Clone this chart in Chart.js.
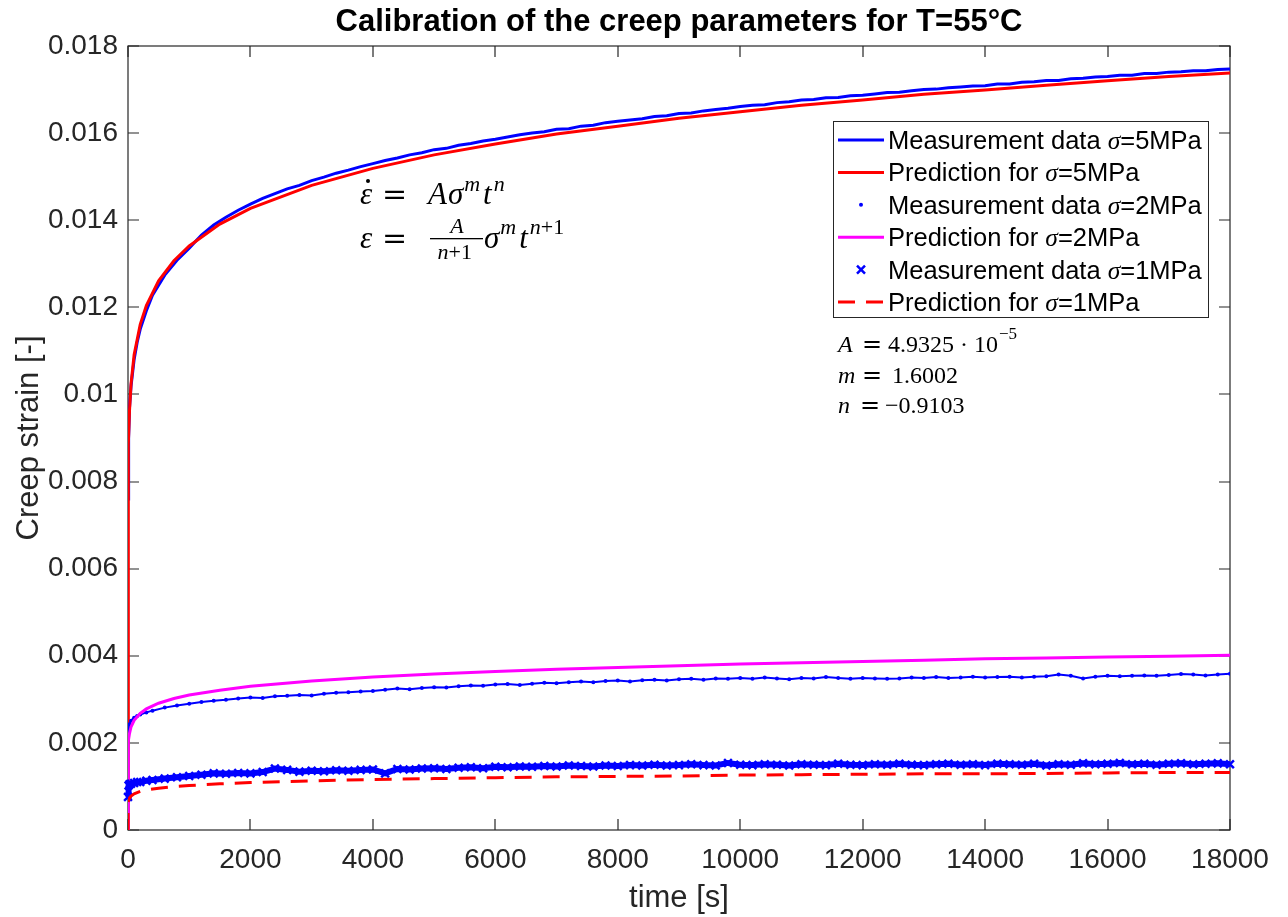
<!DOCTYPE html>
<html>
<head>
<meta charset="utf-8">
<title>Creep calibration T=55°C</title>
<script src="https://cdn.jsdelivr.net/npm/chart.js@4.4.1/dist/chart.umd.min.js"></script>
<style>
  html, body { margin: 0; padding: 0; background: #fff; }
  canvas { display: block; }
</style>
</head>
<body>
<canvas id="creep" width="1288" height="917"></canvas>
<script>
// time grid of the fitted power-law curves [s]
const predTime = [0, 1, 5, 10, 25, 50, 100, 200, 300, 500, 750, 1000, 1500, 2000, 3000,
  4000, 5000, 6000, 7000, 8000, 9000, 10000, 11000, 12000, 13000, 14000, 15000, 16000, 17000, 18000];
const pred5 = [0, 0.00722, 0.00834, 0.00887, 0.00964, 0.01025, 0.01091, 0.01161, 0.01204, 0.01261, 0.01307, 0.01341, 0.01391, 0.01427, 0.01480,
  0.01519, 0.01550, 0.01575, 0.01598, 0.01616, 0.01634, 0.01649, 0.01664, 0.01676, 0.01689, 0.01699, 0.01710, 0.01720, 0.01730, 0.01738];
const pred2 = [0, 0.00167, 0.00193, 0.00205, 0.00222, 0.00237, 0.00252, 0.00268, 0.00278, 0.00291, 0.00302, 0.00310, 0.00321, 0.00330, 0.00342,
  0.00351, 0.00358, 0.00364, 0.00369, 0.00373, 0.00377, 0.00381, 0.00384, 0.00387, 0.00390, 0.00393, 0.00395, 0.00397, 0.00399, 0.00401];
const pred1 = [0, 0.00055, 0.000635, 0.000676, 0.000734, 0.000781, 0.000831, 0.000885, 0.000917, 0.00096, 0.000996, 0.00102, 0.00106, 0.00109, 0.00113,
  0.00116, 0.00118, 0.00120, 0.00122, 0.00123, 0.00124, 0.00126, 0.00127, 0.00128, 0.00129, 0.00129, 0.00130, 0.00131, 0.00132, 0.00132];

// sampling times of the measurements [s]
const measTime = [0, 10, 25, 50, 100, 150, 200, 300, 400, 600, 800, 1000,
  1200, 1400, 1600, 1800, 2000, 2200, 2400, 2600, 2800, 3000,
  3200, 3400, 3600, 3800, 4000, 4200, 4400, 4600, 4800, 5000,
  5200, 5400, 5600, 5800, 6000, 6200, 6400, 6600, 6800, 7000,
  7200, 7400, 7600, 7800, 8000, 8200, 8400, 8600, 8800, 9000,
  9200, 9400, 9600, 9800, 10000, 10200, 10400, 10600, 10800, 11000,
  11200, 11400, 11600, 11800, 12000, 12200, 12400, 12600, 12800, 13000,
  13200, 13400, 13600, 13800, 14000, 14200, 14400, 14600, 14800, 15000,
  15200, 15400, 15600, 15800, 16000, 16200, 16400, 16600, 16800, 17000,
  17200, 17400, 17600, 17800, 18000];
const meas5 = [0.0076, 0.0090, 0.0097, 0.0102, 0.0108, 0.0112, 0.01150, 0.01192, 0.01228, 0.01274, 0.01308, 0.01336,
  0.01366, 0.01389, 0.01407, 0.01423, 0.01437, 0.01450, 0.01461, 0.01472, 0.01480, 0.01491,
  0.01499, 0.01508, 0.01515, 0.01523, 0.01530, 0.01537, 0.01543, 0.01550, 0.01555, 0.01562,
  0.01565, 0.01572, 0.01576, 0.01582, 0.01586, 0.01591, 0.01596, 0.01600, 0.01603, 0.01609,
  0.01610, 0.01616, 0.01618, 0.01624, 0.01627, 0.01630, 0.01633, 0.01638, 0.01640, 0.01645,
  0.01646, 0.01651, 0.01654, 0.01657, 0.01661, 0.01664, 0.01665, 0.01670, 0.01672, 0.01676,
  0.01677, 0.01681, 0.01682, 0.01686, 0.01687, 0.01690, 0.01693, 0.01694, 0.01697, 0.01700,
  0.01701, 0.01704, 0.01706, 0.01708, 0.01709, 0.01713, 0.01713, 0.01717, 0.01718, 0.01721,
  0.01721, 0.01725, 0.01726, 0.01729, 0.01730, 0.01733, 0.01733, 0.01737, 0.01737, 0.01740,
  0.01741, 0.01743, 0.01743, 0.01746, 0.01747];
const meas2 = [0.00210, 0.00232, 0.00243, 0.00251, 0.00258, 0.00262, 0.00265, 0.00270, 0.00274, 0.00281, 0.00286, 0.00290,
  0.00294, 0.00297, 0.00299, 0.00302, 0.00304, 0.00303, 0.00307, 0.00308, 0.00310, 0.00309,
  0.00313, 0.00315, 0.00316, 0.00318, 0.00319, 0.00322, 0.00325, 0.00323, 0.00326, 0.00328,
  0.00327, 0.00330, 0.00332, 0.00331, 0.00334, 0.00335, 0.00333, 0.00336, 0.00338, 0.00337,
  0.00339, 0.00341, 0.00339, 0.00342, 0.00343, 0.00341, 0.00344, 0.00345, 0.00343, 0.00346,
  0.00347, 0.00345, 0.00348, 0.00347, 0.00349, 0.00347, 0.00350, 0.00348, 0.00346, 0.00349,
  0.00348, 0.00351, 0.00349, 0.00347, 0.00349, 0.00348, 0.00347, 0.00348, 0.00350, 0.00349,
  0.00351, 0.00349, 0.00350, 0.00352, 0.00350, 0.00351, 0.00352, 0.00350, 0.00352, 0.00353,
  0.00357, 0.00354, 0.00348, 0.00352, 0.00354, 0.00353, 0.00354, 0.00355, 0.00354, 0.00356,
  0.00358, 0.00357, 0.00355, 0.00357, 0.00359];
const meas1 = [0.00076, 0.00102, 0.00105, 0.00106, 0.00108, 0.00110, 0.00110, 0.00113, 0.00115, 0.00118, 0.00121, 0.00124,
  0.00127, 0.00130, 0.00129, 0.00131, 0.00130, 0.00133, 0.00141, 0.00138, 0.00134, 0.00136,
  0.00135, 0.00137, 0.00136, 0.00138, 0.00139, 0.00130, 0.00140, 0.00139, 0.00141, 0.00142,
  0.00140, 0.00143, 0.00144, 0.00142, 0.00145, 0.00144, 0.00146, 0.00145, 0.00147, 0.00146,
  0.00148, 0.00147, 0.00146, 0.00148, 0.00147, 0.00149, 0.00148, 0.00150, 0.00148, 0.00149,
  0.00151, 0.00149, 0.00148, 0.00154, 0.00150, 0.00149, 0.00151, 0.00150, 0.00148, 0.00151,
  0.00150, 0.00149, 0.00152, 0.00150, 0.00149, 0.00151, 0.00150, 0.00152, 0.00150, 0.00149,
  0.00151, 0.00152, 0.00150, 0.00151, 0.00149, 0.00152, 0.00151, 0.00150, 0.00152, 0.00148,
  0.00151, 0.00150, 0.00153, 0.00151, 0.00152, 0.00154, 0.00151, 0.00152, 0.00150, 0.00152,
  0.00153, 0.00151, 0.00152, 0.00153, 0.00151];

const xTicks = [0, 2000, 4000, 6000, 8000, 10000, 12000, 14000, 16000, 18000];
const xTickLabels = ['0', '2000', '4000', '6000', '8000', '10000', '12000', '14000', '16000', '18000'];
const yTicks = [0, 0.002, 0.004, 0.006, 0.008, 0.01, 0.012, 0.014, 0.016, 0.018];
const yTickLabels = ['0', '0.002', '0.004', '0.006', '0.008', '0.01', '0.012', '0.014', '0.016', '0.018'];

const axisColor = '#262626';
const sans = '"Liberation Sans", Arial, Helvetica, sans-serif';
const serif = '"Liberation Serif", "Times New Roman", serif';
const wideSerif = '"DejaVu Serif", serif';

const toPoints = (xs, ys) => xs.map((x, i) => ({ x: x, y: ys[i] }));

// MATLAB style box with inward ticks on all four sides
const axesBox = {
  id: 'axesBox',
  beforeDatasetsDraw(chart) {
    const { ctx, chartArea: { left, top, right, bottom }, scales: { x, y } } = chart;
    const len = 11;
    ctx.save();
    ctx.strokeStyle = axisColor;
    ctx.lineWidth = 1.2;
    ctx.strokeRect(left, top, right - left, bottom - top);
    ctx.beginPath();
    xTicks.forEach(v => {
      const px = Math.round(x.getPixelForValue(v));
      ctx.moveTo(px, bottom); ctx.lineTo(px, bottom - len);
      ctx.moveTo(px, top); ctx.lineTo(px, top + len);
    });
    yTicks.forEach(v => {
      const py = Math.round(y.getPixelForValue(v));
      ctx.moveTo(left, py); ctx.lineTo(left + len, py);
      ctx.moveTo(right, py); ctx.lineTo(right - len, py);
    });
    ctx.stroke();
    ctx.restore();
  }
};

// write a run of text and return where it ends
function put(ctx, text, x, y, font) {
  ctx.font = font;
  ctx.fillText(text, x, y);
  return x + ctx.measureText(text).width;
}

// legend box: line / marker sample, then label with an italic sigma
const legendBox = {
  id: 'legendBox',
  afterDraw(chart) {
    const ctx = chart.ctx;
    const bx = 833, by = 121, bw = 375, bh = 196, rowH = 32.4;
    ctx.save();
    ctx.fillStyle = '#fff';
    ctx.fillRect(bx, by, bw, bh);
    ctx.strokeStyle = axisColor;
    ctx.lineWidth = 1;
    ctx.strokeRect(bx + 0.5, by + 0.5, bw, bh);

    chart.data.datasets.forEach((ds, i) => {
      const cy = by + 19 + i * rowH;
      const x0 = bx + 5, x1 = bx + 51, xm = (x0 + x1) / 2;
      ctx.strokeStyle = ds.borderColor;
      ctx.fillStyle = ds.borderColor;
      if (ds.pointStyle === 'crossRot') {
        ctx.lineWidth = 2.5;
        ctx.beginPath();
        ctx.moveTo(xm - 4, cy - 4); ctx.lineTo(xm + 4, cy + 4);
        ctx.moveTo(xm - 4, cy + 4); ctx.lineTo(xm + 4, cy - 4);
        ctx.stroke();
      } else if (ds.pointStyle === 'circle') {
        ctx.beginPath();
        ctx.arc(xm, cy, 2, 0, Math.PI * 2);
        ctx.fill();
      } else {
        ctx.lineWidth = 3;
        ctx.setLineDash(ds.borderDash || []);
        ctx.beginPath();
        ctx.moveTo(x0, cy); ctx.lineTo(x1, cy);
        ctx.stroke();
        ctx.setLineDash([]);
      }
      const parts = ds.label.split('σ');
      ctx.fillStyle = '#000';
      ctx.textBaseline = 'alphabetic';
      let tx = bx + 55;
      tx = put(ctx, parts[0], tx, cy + 9, '25.5px ' + sans);
      tx = put(ctx, 'σ', tx, cy + 9, 'italic 25.5px ' + serif);
      put(ctx, parts[1], tx, cy + 9, '25.5px ' + sans);
    });
    ctx.restore();
  }
};

// creep law and fitted parameters written into the axes
const formulas = {
  id: 'formulas',
  afterDraw(chart) {
    const ctx = chart.ctx;
    const big = 'italic 31px ' + serif, small = 'italic 22px ' + serif, smallUp = '22px ' + serif;
    ctx.save();
    ctx.fillStyle = '#000';
    ctx.textBaseline = 'alphabetic';

    // rate form
    put(ctx, 'ε', 360, 204, big);
    ctx.beginPath(); ctx.arc(368, 181, 2, 0, Math.PI * 2); ctx.fill();
    put(ctx, '=', 382, 204, '30px ' + wideSerif);
    let x = put(ctx, 'A', 428, 204, big);
    x = put(ctx, 'σ', x + 1, 204, big);
    x = put(ctx, 'm', x + 1, 191, small);
    x = put(ctx, 't', x + 3, 204, big);
    put(ctx, 'n', x + 2, 191, small);

    // integrated form
    put(ctx, 'ε', 360, 248, big);
    put(ctx, '=', 382, 248, '30px ' + wideSerif);
    ctx.font = small;
    ctx.textAlign = 'center';
    ctx.fillText('A', 457, 233);
    ctx.textAlign = 'left';
    const wn = ctx.measureText('n').width + ctx.measureText('+1').width;
    let dx = 456 - wn / 2;
    dx = put(ctx, 'n', dx, 259, small);
    put(ctx, '+1', dx, 259, smallUp);
    ctx.fillRect(430, 238, 53, 1.3);
    x = put(ctx, 'σ', 484, 248, big);
    x = put(ctx, 'm', x + 1, 234, small);
    x = put(ctx, 't', x + 3, 248, big);
    x = put(ctx, 'n', x + 2, 234, small);
    put(ctx, '+1', x, 234, smallUp);

    // fitted parameters
    const it = 'italic 24px ' + serif, rm = '24px ' + serif, eq = '24px ' + wideSerif;
    put(ctx, 'A', 838, 352, it);
    put(ctx, '=', 862, 352, eq);
    x = put(ctx, '4.9325 · 10', 888, 352, rm);
    put(ctx, '−5', x + 1, 339, '17px ' + serif);
    put(ctx, 'm', 838, 383, it);
    put(ctx, '=', 862, 383, eq);
    put(ctx, '1.6002', 892, 383, rm);
    put(ctx, 'n', 838, 413, it);
    put(ctx, '=', 860, 413, eq);
    put(ctx, '−0.9103', 885, 413, rm);
    ctx.restore();
  }
};

new Chart(document.getElementById('creep'), {
  type: 'line',
  data: {
    datasets: [
      { label: 'Measurement data σ=5MPa', data: toPoints(measTime, meas5),
        borderColor: '#0000ff', borderWidth: 3, pointRadius: 0, order: 6 },
      { label: 'Prediction for σ=5MPa', data: toPoints(predTime, pred5),
        borderColor: '#ff0000', borderWidth: 3, pointRadius: 0, order: 5 },
      { label: 'Measurement data σ=2MPa', data: toPoints(measTime, meas2),
        borderColor: '#0000ff', backgroundColor: '#0000ff', borderWidth: 2,
        pointStyle: 'circle', pointRadius: 2, pointBorderWidth: 0, order: 4 },
      { label: 'Prediction for σ=2MPa', data: toPoints(predTime, pred2),
        borderColor: '#ff00ff', borderWidth: 3, pointRadius: 0, order: 3 },
      { label: 'Measurement data σ=1MPa', data: toPoints(measTime, meas1),
        borderColor: '#0000ff', backgroundColor: '#0000ff', borderWidth: 6,
        pointStyle: 'crossRot', pointRadius: 5.5, pointBorderWidth: 2.5, clip: 8, order: 2 },
      { label: 'Prediction for σ=1MPa', data: toPoints(predTime, pred1),
        borderColor: '#ff0000', borderWidth: 3, borderDash: [17, 11], pointRadius: 0, order: 1 }
    ]
  },
  options: {
    responsive: false,
    animation: false,
    events: [],
    layout: { padding: { top: 0, right: 58, bottom: 0, left: 0 } },
    elements: { line: { tension: 0, fill: false } },
    plugins: {
      legend: { display: false },
      tooltip: { enabled: false },
      title: {
        display: true,
        text: 'Calibration of the creep parameters for T=55°C',
        fullSize: false,
        color: '#000',
        font: { family: sans, size: 31, weight: 'bold', lineHeight: 1.2 },
        padding: { top: 4, bottom: 4.8 }
      }
    },
    scales: {
      x: {
        type: 'linear', min: 0, max: 18000,
        afterBuildTicks: s => { s.ticks = xTicks.map(v => ({ value: v })); },
        afterFit: s => { s.height = 87; },
        grid: { display: false, drawTicks: false },
        border: { display: false },
        ticks: {
          autoSkip: false, maxRotation: 0, padding: 13, color: axisColor,
          font: { family: sans, size: 28 },
          callback: (v, i) => xTickLabels[i]
        },
        title: {
          display: true, text: 'time [s]', color: axisColor,
          font: { family: sans, size: 31, lineHeight: 1.2 },
          padding: { top: 0, bottom: 0 }
        }
      },
      y: {
        type: 'linear', min: 0, max: 0.018,
        afterBuildTicks: s => { s.ticks = yTicks.map(v => ({ value: v })); },
        afterFit: s => { s.width = 128; },
        grid: { display: false, drawTicks: false },
        border: { display: false },
        ticks: {
          autoSkip: false, padding: 10, color: axisColor,
          font: { family: sans, size: 28 },
          callback: (v, i) => yTickLabels[i]
        },
        title: {
          display: true, text: 'Creep strain [-]', color: axisColor,
          font: { family: sans, size: 31, lineHeight: 1.2 },
          padding: { top: 11, bottom: 0 }
        }
      }
    }
  },
  plugins: [axesBox, legendBox, formulas]
});
</script>
</body>
</html>
